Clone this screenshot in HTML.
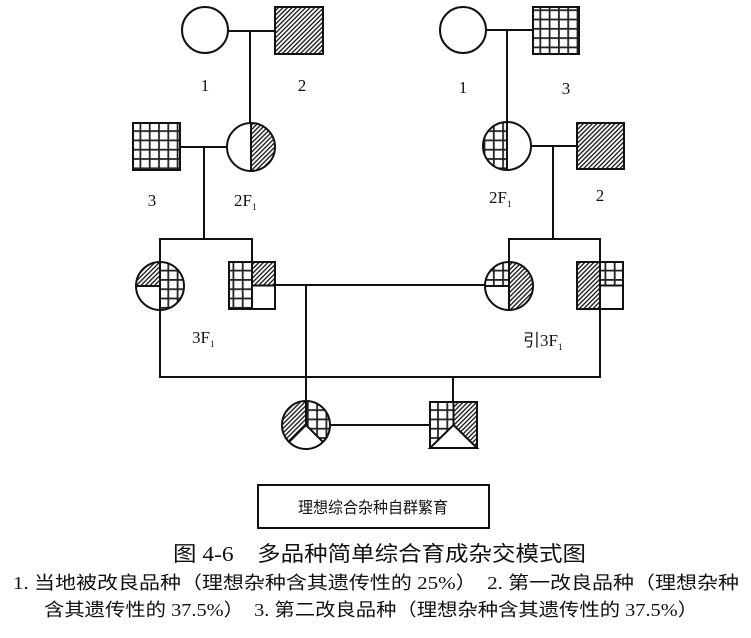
<!DOCTYPE html>
<html><head><meta charset="utf-8"><style>
html,body{margin:0;padding:0;background:#fff;}
svg{display:block;}
text{font-family:"Liberation Serif","Noto Serif CJK SC",serif;fill:#111;}
.c{font-family:"Liberation Serif","Noto Sans CJK SC",sans-serif;}
</style></head><body>
<svg width="751" height="638" viewBox="0 0 751 638" xmlns="http://www.w3.org/2000/svg">
<defs>
<pattern id="h" patternUnits="userSpaceOnUse" width="3.2" height="3.2" patternTransform="rotate(45)">
<rect width="3.2" height="3.2" fill="#fff"/><rect width="1.4" height="3.2" fill="#222"/>
</pattern>
<pattern id="g" patternUnits="userSpaceOnUse" width="9.3" height="9.3" x="0" y="0">
<rect width="9.3" height="9.3" fill="#fff"/><rect width="9.3" height="1.8" fill="#222"/><rect width="1.8" height="9.3" fill="#222"/>
</pattern>
</defs>
<g stroke="#111" stroke-width="2" fill="none">
<line x1="228" y1="31" x2="275" y2="31"/>
<line x1="250" y1="31" x2="250" y2="123"/>
<line x1="180" y1="147" x2="227" y2="147"/>
<line x1="204" y1="147" x2="204" y2="239"/>
<line x1="159" y1="239" x2="253" y2="239"/>
<line x1="160" y1="239" x2="160" y2="262"/>
<line x1="252" y1="239" x2="252" y2="262"/>
<line x1="486" y1="30" x2="533" y2="30"/>
<line x1="507" y1="30" x2="507" y2="122"/>
<line x1="531" y1="146" x2="577" y2="146"/>
<line x1="553" y1="146" x2="553" y2="239"/>
<line x1="508" y1="239" x2="601" y2="239"/>
<line x1="509" y1="239" x2="509" y2="262"/>
<line x1="600" y1="239" x2="600" y2="262"/>
<line x1="275" y1="285" x2="485" y2="285"/>
<line x1="306" y1="285" x2="306" y2="401"/>
<line x1="160" y1="310" x2="160" y2="377"/>
<line x1="600" y1="309" x2="600" y2="377"/>
<line x1="159" y1="377" x2="601" y2="377"/>
<line x1="453" y1="377" x2="453" y2="402"/>
<line x1="330" y1="425" x2="430" y2="425"/>
</g>
<circle cx="205" cy="30" r="23" fill="#fff" stroke="#111" stroke-width="2"/>
<rect x="275" y="7" width="48" height="47" fill="url(#h)" stroke="#111" stroke-width="2"/>
<rect x="133" y="123" width="47" height="47" fill="url(#g)" stroke="#111" stroke-width="2"/>
<circle cx="251" cy="147" r="24" fill="#fff"/>
<path d="M251,123 A24,24 0 0 1 251,171 Z" fill="url(#h)"/>
<line x1="251" y1="123" x2="251" y2="171" stroke="#111" stroke-width="2"/>
<circle cx="251" cy="147" r="24" fill="none" stroke="#111" stroke-width="2"/>
<circle cx="463" cy="30" r="23" fill="#fff" stroke="#111" stroke-width="2"/>
<rect x="533" y="7" width="46" height="47" fill="url(#g)" stroke="#111" stroke-width="2"/>
<rect x="577" y="123" width="47" height="46" fill="url(#h)" stroke="#111" stroke-width="2"/>
<circle cx="507" cy="146" r="24" fill="#fff"/>
<path d="M507,122 A24,24 0 0 0 507,170 Z" fill="url(#g)"/>
<line x1="507" y1="122" x2="507" y2="170" stroke="#111" stroke-width="2"/>
<circle cx="507" cy="146" r="24" fill="none" stroke="#111" stroke-width="2"/>
<circle cx="160" cy="286" r="24" fill="#fff"/>
<path d="M160,286 L136,286 A24,24 0 0 1 160,262 Z" fill="url(#h)"/>
<path d="M160,262 A24,24 0 0 1 160,310 Z" fill="url(#g)"/>
<path d="M160,262 L160,310 M136,286 L160,286" stroke="#111" stroke-width="2"/>
<circle cx="160" cy="286" r="24" fill="none" stroke="#111" stroke-width="2"/>
<rect x="229" y="262" width="46" height="47" fill="#fff"/>
<rect x="229" y="262" width="23" height="47" fill="url(#g)"/>
<rect x="252" y="262" width="23" height="23.5" fill="url(#h)"/>
<path d="M252,262 L252,309 M252,285.5 L275,285.5" stroke="#111" stroke-width="2"/>
<rect x="229" y="262" width="46" height="47" fill="none" stroke="#111" stroke-width="2"/>
<circle cx="509" cy="286" r="24" fill="#fff"/>
<path d="M509,286 L485,286 A24,24 0 0 1 509,262 Z" fill="url(#g)"/>
<path d="M509,262 A24,24 0 0 1 509,310 Z" fill="url(#h)"/>
<path d="M509,262 L509,310 M485,286 L509,286" stroke="#111" stroke-width="2"/>
<circle cx="509" cy="286" r="24" fill="none" stroke="#111" stroke-width="2"/>
<rect x="577" y="262" width="46" height="47" fill="#fff"/>
<rect x="577" y="262" width="23" height="47" fill="url(#h)"/>
<rect x="600" y="262" width="23" height="23.5" fill="url(#g)"/>
<path d="M600,262 L600,309 M600,285.5 L623,285.5" stroke="#111" stroke-width="2"/>
<rect x="577" y="262" width="46" height="47" fill="none" stroke="#111" stroke-width="2"/>
<circle cx="306" cy="425" r="24" fill="#fff"/>
<path d="M306,425 L289,442 A24,24 0 0 1 306,401 Z" fill="url(#h)"/>
<path d="M306,425 L306,401 A24,24 0 0 1 323,442 Z" fill="url(#g)"/>
<path d="M289,442 L306,425 L323,442 M306,401 L306,425" stroke="#111" stroke-width="2" fill="none"/>
<circle cx="306" cy="425" r="24" fill="none" stroke="#111" stroke-width="2"/>
<rect x="430" y="402" width="47" height="46" fill="#fff"/>
<rect x="430" y="402" width="23.5" height="46" fill="url(#g)"/>
<rect x="453.5" y="402" width="23.5" height="46" fill="url(#h)"/>
<path d="M453.5,425 L430,448 L477,448 Z" fill="#fff" stroke="#111" stroke-width="2"/>
<line x1="453.5" y1="402" x2="453.5" y2="425" stroke="#111" stroke-width="2"/>
<rect x="430" y="402" width="47" height="46" fill="none" stroke="#111" stroke-width="2"/>
<g font-size="17" text-anchor="middle">
<text x="205" y="91">1</text>
<text x="302" y="91">2</text>
<text x="152" y="206">3</text>
<text x="463" y="93">1</text>
<text x="566" y="94">3</text>
<text x="600" y="201">2</text>
</g>
<g font-size="17">
<text x="234" y="206">2F<tspan font-size="9" dy="4">1</tspan></text>
<text x="489" y="203">2F<tspan font-size="9" dy="4">1</tspan></text>
<text x="192" y="343">3F<tspan font-size="9" dy="4">1</tspan></text>
<text x="523" y="346" class="c">引3F<tspan font-size="9" dy="4">1</tspan></text>
</g>
<rect x="258" y="485" width="231" height="43" fill="none" stroke="#111" stroke-width="2"/>
<text x="373" y="513" class="c" font-size="16" text-anchor="middle" textLength="150" lengthAdjust="spacingAndGlyphs">理想综合杂种自群繁育</text>
<text x="173" y="561" class="c" font-size="21" textLength="413" lengthAdjust="spacingAndGlyphs">图 4-6　多品种简单综合育成杂交模式图</text>
<text x="13" y="589" class="c" font-size="18" textLength="726" lengthAdjust="spacingAndGlyphs">1. 当地被改良品种（理想杂种含其遗传性的 25%）　2. 第一改良品种（理想杂种</text>
<text x="44" y="616" class="c" font-size="18" textLength="654" lengthAdjust="spacingAndGlyphs">含其遗传性的 37.5%）　3. 第二改良品种（理想杂种含其遗传性的 37.5%）</text>
</svg>
</body></html>
